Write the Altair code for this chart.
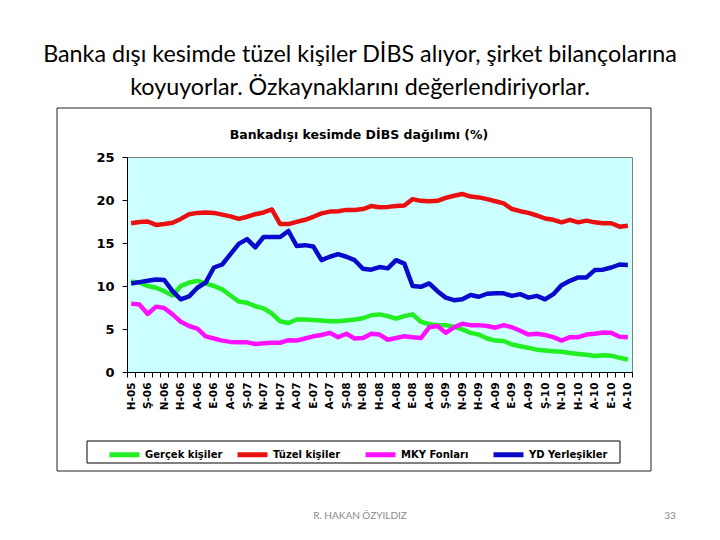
import altair as alt
import pandas as pd

series_names = ["Gerçek kişiler", "Tüzel kişiler", "MKY Fonları", "YD Yerleşikler"]
series_colors = ["#22EE22", "#E81010", "#FF10FF", "#0A0ACC"]

tick_labels = ["H-05", "Ş-06", "N-06", "H-06", "A-06", "E-06", "A-06", "Ş-07", "N-07", "H-07",
               "A-07", "E-07", "A-07", "Ş-08", "N-08", "H-08", "A-08", "E-08", "A-08", "Ş-09",
               "N-09", "H-09", "A-09", "E-09", "A-09", "Ş-10", "N-10", "H-10", "A-10", "E-10", "A-10"]

gercek = [10.5, 10.4, 10.0, 9.8, 9.4, 8.9, 10.0, 10.4, 10.6, 10.3,
          10.0, 9.6, 8.9, 8.2, 8.05, 7.65, 7.4, 6.8, 5.9, 5.7,
          6.1, 6.1, 6.05, 6.0, 5.9, 5.9, 6.0, 6.1, 6.25, 6.6,
          6.7, 6.5, 6.2, 6.5, 6.7, 5.85, 5.55, 5.45, 5.45, 5.25,
          4.95, 4.55, 4.35, 3.9, 3.65, 3.6, 3.2, 3.0, 2.8, 2.6,
          2.5, 2.4, 2.35, 2.2, 2.1, 2.0, 1.85, 1.95, 1.9, 1.65, 1.45]

tuzel = [17.3, 17.45, 17.5, 17.1, 17.2, 17.35, 17.8, 18.35, 18.5, 18.55,
         18.5, 18.3, 18.1, 17.8, 18.05, 18.35, 18.55, 18.9, 17.2, 17.2,
         17.45, 17.7, 18.05, 18.45, 18.65, 18.7, 18.85, 18.85, 18.95, 19.3,
         19.15, 19.2, 19.3, 19.35, 20.1, 19.9, 19.85, 19.9, 20.25, 20.5,
         20.7, 20.4, 20.3, 20.1, 19.85, 19.6, 18.95, 18.7, 18.5, 18.2,
         17.85, 17.7, 17.4, 17.7, 17.4, 17.6, 17.4, 17.3, 17.3, 16.9, 17.0]

mky = [7.95, 7.85, 6.75, 7.6, 7.45, 6.7, 5.85, 5.35, 5.05, 4.15,
       3.9, 3.65, 3.5, 3.45, 3.45, 3.25, 3.35, 3.4, 3.4, 3.7,
       3.65, 3.9, 4.15, 4.3, 4.55, 4.05, 4.45, 3.9, 3.95, 4.45,
       4.35, 3.75, 3.95, 4.15, 4.05, 3.95, 5.2, 5.35, 4.55, 5.2,
       5.6, 5.45, 5.45, 5.35, 5.15, 5.45, 5.2, 4.8, 4.35, 4.45,
       4.3, 4.05, 3.65, 4.05, 4.05, 4.35, 4.45, 4.6, 4.55, 4.1, 4.05]

yd = [10.3, 10.45, 10.6, 10.75, 10.7, 9.4, 8.45, 8.8, 9.8, 10.4,
      12.15, 12.5, 13.7, 14.9, 15.45, 14.5, 15.7, 15.7, 15.7, 16.4,
      14.65, 14.75, 14.6, 13.0, 13.4, 13.7, 13.4, 13.0, 12.0, 11.9,
      12.2, 12.05, 13.0, 12.6, 10.0, 9.9, 10.3, 9.4, 8.65, 8.35,
      8.45, 8.95, 8.75, 9.1, 9.15, 9.15, 8.85, 9.05, 8.65, 8.85,
      8.45, 9.05, 10.1, 10.6, 11.0, 11.0, 11.85, 11.9, 12.15, 12.5, 12.45]

all_series = [gercek, tuzel, mky, yd]
rows = []
for name, vals in zip(series_names, all_series):
    for i, v in enumerate(vals):
        rows.append({"i": i, "seri": name, "deger": v})
df = pd.DataFrame(rows)

n = len(gercek)
arr = "[" + ",".join("'" + s + "'" for s in tick_labels) + "]"
# ticks sit on category boundaries (k - 0.5); labels are shifted half a category to the right
label_expr = f"(datum.value + 0.5) % 2 == 0 ? {arr}[(datum.value + 0.5) / 2] : ''"
tick_values = [k - 0.5 for k in range(n + 1)]

PL, PT, W, H = 127, 157, 505, 215
one = pd.DataFrame({"a": [0]})
CF = "DejaVu Sans"
half_band = W / n / 2

xscale = alt.Scale(domain=[-0.5, n - 0.5], nice=False, zero=False)

frame = alt.Chart(one).mark_rect(fillOpacity=0, stroke="#222222", strokeWidth=1).encode(
    x=alt.value(57 - PL), x2=alt.value(651 - PL), y=alt.value(108 - PT), y2=alt.value(471 - PT))

legend_box = alt.Chart(one).mark_rect(fillOpacity=0, stroke="#000000", strokeWidth=1).encode(
    x=alt.value(87 - PL), x2=alt.value(620 - PL), y=alt.value(441 - PT), y2=alt.value(463 - PT))

lines = alt.Chart(df).mark_line(strokeWidth=4.5, strokeJoin="round", strokeCap="butt").encode(
    x=alt.X("i:Q", scale=xscale,
            axis=alt.Axis(title=None, values=tick_values, labelExpr=label_expr,
                          labelAngle=270, labelOverlap=False, labelFont=CF,
                          labelFontWeight="bold", labelFontSize=10.5, labelColor="#000000",
                          labelPadding=5, labelOffset=half_band, tickSize=5,
                          tickColor="#000000", domainColor="#000000", grid=False)),
    y=alt.Y("deger:Q", scale=alt.Scale(domain=[0, 25], nice=False),
            axis=alt.Axis(title=None, values=[0, 5, 10, 15, 20, 25], labelFont=CF,
                          labelFontWeight="bold", labelFontSize=13, labelColor="#000000",
                          labelPadding=8, tickSize=5, tickColor="#000000", domainColor="#000000",
                          grid=False)),
    color=alt.Color("seri:N", sort=series_names,
                    scale=alt.Scale(domain=series_names, range=series_colors),
                    legend=alt.Legend(title=None, orient="none", legendX=107 - PL, legendY=452 - 15 - PT,
                                      direction="horizontal", columns=4, gridAlign="all",
                                      columnPadding=3, symbolType="stroke", symbolSize=900,
                                      symbolStrokeWidth=5, labelFont=CF,
                                      labelFontWeight="bold", labelFontSize=10,
                                      labelColor="#000000", labelOffset=3, padding=0)),
    order=alt.Order("i:Q"),
)

def txt(s, x, y, size, font="Lato", weight="normal", color="#000000", align="center", baseline="alphabetic"):
    return alt.Chart(one).mark_text(text=s, font=font, fontSize=size, fontWeight=weight, color=color,
                                    align=align, baseline=baseline).encode(
        x=alt.value(x - PL), y=alt.value(y - PT))

title1 = txt("Banka dışı kesimde tüzel kişiler DİBS alıyor, şirket bilançolarına", 360, 62, 23.3)
title2 = txt("koyuyorlar. Özkaynaklarını değerlendiriyorlar.", 360, 95, 23.3)
ctitle = txt("Bankadışı kesimde DİBS dağılımı (%)", 359, 135, 12.5, font=CF, weight="bold", baseline="middle")
foot1 = txt("R. HAKAN ÖZYILDIZ", 360, 519, 10, color="#8a8a8a")
foot2 = txt("33", 670, 519, 10, color="#8a8a8a")

chart = alt.layer(frame, legend_box, lines, title1, title2, ctitle, foot1, foot2).properties(
    width=W, height=H,
    autosize=alt.AutoSizeParams(type="none"),
    padding={"left": PL, "top": PT, "right": 720 - PL - W, "bottom": 540 - PT - H},
).configure_view(fill="#CCFFFF", stroke="#808080", strokeWidth=1)

chart.save("out.html", embed_options={"renderer": "svg", "actions": False})
